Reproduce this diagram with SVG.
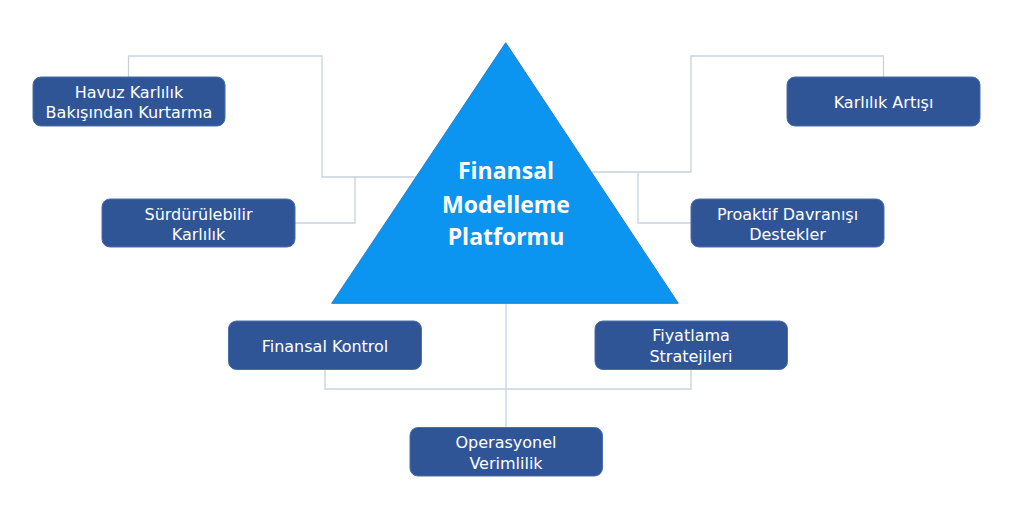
<svg xmlns="http://www.w3.org/2000/svg" width="1024" height="514" viewBox="0 0 1024 514">
<style>
.box{fill:#2f5597;stroke:#4a6ea8;stroke-width:1}
.lbl{fill:#ffffff;font-family:"DejaVu Sans","Open Sans",sans-serif;font-size:16px;text-anchor:middle}
.title{fill:#ffffff;font-family:"Open Sans","DejaVu Sans",sans-serif;font-size:23px;font-weight:bold;text-anchor:middle}
.conn{fill:none;stroke:#c6d3de;stroke-width:1.3}
</style>
<rect width="1024" height="514" fill="#ffffff"/>
<g id="connectors">
<path class="conn" d="M128.5,77 V56 H322 V177 H417"/>
<path class="conn" d="M295,223 H355 V176"/>
<path class="conn" d="M883.5,77 V56 H691 V172 H592"/>
<path class="conn" d="M691,223 H638 V172"/>
<path class="conn" d="M506,303 V427"/>
<path class="conn" d="M325,370 V389 H691 V370"/>
</g>
<g id="center">
<polygon points="505.7,42.7 678.3,303.3 331.7,303.3" fill="#0b95f0" stroke="#2a7fc4" stroke-width="1"/>
<text class="title" x="506" y="179">Finansal</text>
<text class="title" x="506" y="213">Modelleme</text>
<text class="title" x="506" y="245">Platformu</text>
</g>
<g id="havuz">
<rect class="box" x="33" y="77" width="192" height="49" rx="8"/>
<text class="lbl" x="129" y="97.5">Havuz Karlılık</text>
<text class="lbl" x="129" y="118">Bakışından Kurtarma</text>
</g>
<g id="karlilik-artisi">
<rect class="box" x="787" y="77" width="193" height="49" rx="8"/>
<text class="lbl" x="883.5" y="107.5">Karlılık Artışı</text>
</g>
<g id="surdurulebilir">
<rect class="box" x="102" y="199" width="193" height="48" rx="8"/>
<text class="lbl" x="198.5" y="219.5">Sürdürülebilir</text>
<text class="lbl" x="198.5" y="240">Karlılık</text>
</g>
<g id="proaktif">
<rect class="box" x="691" y="199" width="193" height="48" rx="8"/>
<text class="lbl" x="787.5" y="219.5">Proaktif Davranışı</text>
<text class="lbl" x="787.5" y="240">Destekler</text>
</g>
<g id="finansal-kontrol">
<rect class="box" x="228.5" y="321" width="193" height="48.5" rx="8"/>
<text class="lbl" x="325" y="351.5">Finansal Kontrol</text>
</g>
<g id="fiyatlama">
<rect class="box" x="595" y="321" width="192.5" height="48.5" rx="8"/>
<text class="lbl" x="691" y="341">Fiyatlama</text>
<text class="lbl" x="691" y="362">Stratejileri</text>
</g>
<g id="operasyonel">
<rect class="box" x="410" y="427.5" width="192.5" height="48.5" rx="8"/>
<text class="lbl" x="506" y="448">Operasyonel</text>
<text class="lbl" x="506" y="468.5">Verimlilik</text>
</g>
</svg>
